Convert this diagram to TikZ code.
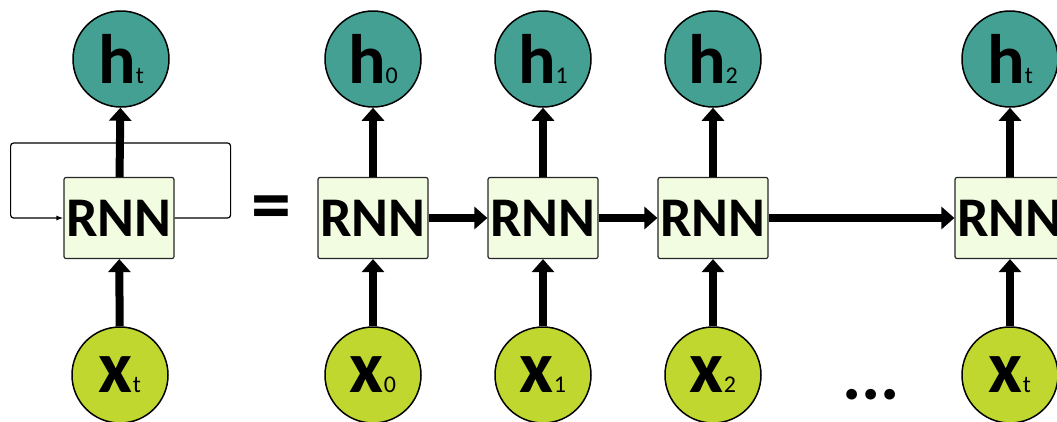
\documentclass[tikz,border=0pt]{standalone}
\usepackage{fontspec}
\setmainfont{Carlito}
\definecolor{hteal}{RGB}{67, 160, 146}
\definecolor{xgreen}{RGB}{192, 215, 47}
\definecolor{cellfill}{RGB}{242, 252, 224}
\usepackage{tikz}
\usetikzlibrary{arrows.meta, positioning}

\newcommand{\hlab}[1]{{\fontsize{70}{70}\selectfont\bfseries h}{\fontsize{24}{24}\selectfont #1}}
\newcommand{\xlab}[1]{{\fontsize{74}{74}\selectfont\bfseries x}{\fontsize{24}{24}\selectfont #1}}

\begin{document}
\begin{tikzpicture}[x=1pt, y=-1pt,
    hnode/.style={circle, draw=black, line width=1.5pt, fill=hteal, minimum size=96pt, inner sep=0pt},
    xnode/.style={circle, draw=black, line width=1.5pt, fill=xgreen, minimum size=96pt, inner sep=0pt},
    cell/.style={draw=black!85, line width=1.2pt, fill=cellfill, rounded corners=2pt, minimum width=110pt, minimum height=81pt, inner sep=0pt, font=\fontsize{56}{56}\selectfont\bfseries},
    flow/.style={line width=8pt, -{Triangle[length=13pt, width=22pt]}},
    loopback/.style={line width=1.2pt, rounded corners=3pt, -{Latex[length=7pt, width=5pt]}}]
  \useasboundingbox (0,0) rectangle (1057,421);

  % Folded network
  \node[cell] (rnnL) at (119,218) {RNN};
  \node[hnode] (hL) at (121,59) {\hlab{t}};
  \node[xnode] (xL) at (120,375) {\xlab{t}};
  \draw[loopback] (rnnL.east) -- ++(56,0) -- ++(0,-75) -- ++(-220,0) -- ++(0,75) -- (rnnL.west);
  \draw[flow] (rnnL) -- (hL);
  \draw[flow] (xL) -- (rnnL);

  \node[font=\fontsize{80}{80}\selectfont\bfseries] (eq) at (271,214) {=};

  % Unrolled network
  \node[cell] (rnn0) at (373,218) {RNN};
  \node[cell] (rnn1) at (543,218) {RNN};
  \node[cell] (rnn2) at (713,218) {RNN};
  \node[cell] (rnn3) at (1010,218) {RNN};

  \node[hnode] (h0) at (373,59) {\hlab{0}};
  \node[hnode] (h1) at (543,59) {\hlab{1}};
  \node[hnode] (h2) at (713,59) {\hlab{2}};
  \node[hnode] (h3) at (1010,59) {\hlab{t}};

  \node[xnode] (x0) at (373,375) {\xlab{0}};
  \node[xnode] (x1) at (543,375) {\xlab{1}};
  \node[xnode] (x2) at (713,375) {\xlab{2}};
  \node[xnode] (x3) at (1010,375) {\xlab{t}};

  \node[font=\fontsize{72}{72}\selectfont\bfseries, anchor=base] (dots) at (871,399) {...};

  \draw[flow] (rnn0) -- (h0);
  \draw[flow] (rnn1) -- (h1);
  \draw[flow] (rnn2) -- (h2);
  \draw[flow] (rnn3) -- (h3);
  \draw[flow] (x0) -- (rnn0);
  \draw[flow] (x1) -- (rnn1);
  \draw[flow] (x2) -- (rnn2);
  \draw[flow] (x3) -- (rnn3);
  \draw[flow] (rnn0) -- (rnn1);
  \draw[flow] (rnn1) -- (rnn2);
  \draw[flow] (rnn2) -- (rnn3);
\end{tikzpicture}
\end{document}
